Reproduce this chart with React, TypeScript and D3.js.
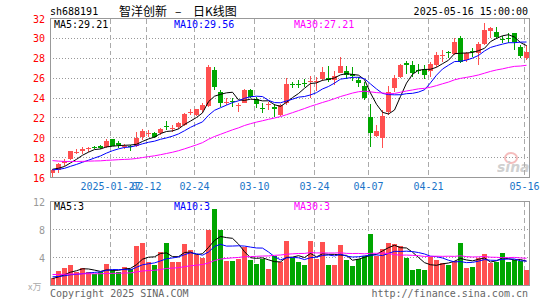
import React, { useEffect, useRef } from "react";
import * as d3 from "d3";

const dates = [
  "2025-01-13", "2025-01-14", "2025-01-15", "2025-01-16", "2025-01-17", "2025-01-20", "2025-01-21", "2025-01-22",
  "2025-01-23", "2025-01-24", "2025-01-27", "2025-02-05", "2025-02-06", "2025-02-07", "2025-02-10", "2025-02-11",
  "2025-02-12", "2025-02-13", "2025-02-14", "2025-02-17", "2025-02-18", "2025-02-19", "2025-02-20", "2025-02-21",
  "2025-02-24", "2025-02-25", "2025-02-26", "2025-02-27", "2025-02-28", "2025-03-03", "2025-03-04", "2025-03-05",
  "2025-03-06", "2025-03-07", "2025-03-10", "2025-03-11", "2025-03-12", "2025-03-13", "2025-03-14", "2025-03-17",
  "2025-03-18", "2025-03-19", "2025-03-20", "2025-03-21", "2025-03-24", "2025-03-25", "2025-03-26", "2025-03-27",
  "2025-03-28", "2025-03-31", "2025-04-01", "2025-04-02", "2025-04-03", "2025-04-07", "2025-04-08", "2025-04-09",
  "2025-04-10", "2025-04-11", "2025-04-14", "2025-04-15", "2025-04-16", "2025-04-17", "2025-04-18", "2025-04-21",
  "2025-04-22", "2025-04-23", "2025-04-24", "2025-04-25", "2025-04-28", "2025-04-29", "2025-04-30", "2025-05-06",
  "2025-05-07", "2025-05-08", "2025-05-09", "2025-05-12", "2025-05-13", "2025-05-14", "2025-05-15", "2025-05-16",
];

const opens = [
  16.45, 16.8, 17.45, 17.9, 18.5, 18.7, 18.9, 19.05, 19.15, 19.05, 19.85, 19.5, 19.1, 19.15, 19.15, 20.05,
  20.4, 20.5, 20.45, 21.15, 20.9, 21.05, 21.3, 22.45, 22.3, 22.8, 23.2, 26.85, 24.6, 23.55, 23.65, 23.2,
  23.5, 24.85, 23.85, 22.95, 23.3, 23.1, 22.3, 23.45, 25.4, 25.45, 25.55, 25.65, 25.65, 25.95, 26.05, 25.85,
  26.55, 26.7, 26.45, 25.85, 25.2, 22.1, 20.2, 19.95, 22.6, 25.05, 26.15, 27.55, 27.3, 26.85, 26.95, 26.7,
  27.3, 28.25, 28.6, 28.4, 30.05, 27.8, 28.7, 28.5, 29.4, 30.7, 30.65, 29.95, 30.0, 30.5, 29.15, 28.05,
];
const highs = [
  16.85, 17.5, 17.9, 18.7, 18.85, 19.1, 19.1, 19.2, 19.25, 19.9, 19.9, 19.7, 19.4, 19.25, 20.55, 20.9,
  20.75, 20.6, 21.0, 21.65, 21.25, 21.6, 22.45, 22.85, 22.9, 23.45, 27.3, 27.15, 24.8, 24.0, 24.0, 23.5,
  24.9, 24.9, 24.1, 23.45, 23.6, 23.4, 23.4, 26.0, 25.65, 25.85, 25.95, 26.25, 26.1, 27.1, 27.25, 26.7,
  28.1, 27.25, 27.15, 26.15, 25.6, 23.4, 21.3, 22.75, 25.25, 26.3, 27.45, 27.7, 27.7, 27.45, 27.3, 27.65,
  28.65, 28.8, 28.75, 30.0, 30.25, 28.65, 29.05, 29.65, 31.5, 31.15, 31.15, 30.25, 30.5, 30.55, 29.3, 29.3,
];
const lows = [
  16.05, 16.5, 17.2, 17.8, 18.35, 18.4, 18.55, 18.85, 18.85, 19.0, 19.15, 18.95, 18.85, 18.7, 19.05, 19.75,
  20.1, 20.0, 20.3, 20.75, 20.6, 20.9, 21.2, 22.25, 22.2, 22.45, 23.1, 24.85, 23.05, 23.25, 23.1, 22.6,
  23.45, 23.95, 22.95, 22.5, 22.77, 22.1, 22.2, 23.3, 25.0, 25.0, 25.1, 24.0, 24.75, 25.7, 25.6, 25.3,
  26.5, 25.95, 25.75, 25.1, 23.75, 19.05, 20.05, 18.95, 22.3, 24.6, 26.0, 26.45, 26.15, 26.45, 25.9, 26.1,
  27.15, 27.65, 28.05, 28.3, 27.5, 27.65, 28.15, 27.3, 29.3, 30.05, 29.9, 29.5, 29.5, 28.8, 28.05, 27.8,
];
const closes = [
  16.8, 17.4, 17.7, 18.65, 18.6, 18.85, 18.95, 19.0, 18.95, 19.65, 19.2, 19.25, 19.15, 19.1, 20.0, 20.65,
  20.5, 20.1, 20.85, 21.05, 20.95, 21.5, 22.35, 22.55, 22.85, 23.25, 27.15, 25.1, 23.5, 23.6, 23.55, 23.3,
  24.85, 24.1, 23.4, 22.9, 23.35, 22.85, 23.3, 25.4, 25.3, 25.4, 25.5, 25.7, 25.7, 26.6, 25.85, 26.25,
  27.25, 26.3, 26.2, 25.5, 24.0, 20.5, 20.65, 22.15, 24.65, 26.0, 27.35, 27.35, 26.55, 26.75, 26.35, 27.45,
  28.35, 28.35, 28.5, 29.65, 27.65, 28.5, 28.6, 29.4, 30.85, 31.0, 30.15, 29.9, 29.95, 29.65, 28.25, 28.6,
];
// volume in 万手
const volumes = [
  1.1, 2.1, 2.5, 2.9, 1.95, 2.5, 1.95, 1.7, 1.95, 3.05, 2.2, 1.95, 2.65, 2.4, 5.67, 6.1,
  3.4, 2.9, 4.8, 6.1, 3.4, 3.4, 5.9, 5.05, 4.33, 4.0, 7.9, 10.9, 7.9, 3.5, 3.5, 3.75,
  5.5, 3.6, 3.05, 3.85, 2.35, 4.2, 3.4, 6.3, 4.0, 3.4, 2.9, 6.3, 3.85, 6.2, 3.0, 2.9,
  5.8, 3.6, 2.75, 3.75, 4.2, 7.33, 4.2, 5.2, 6.1, 5.9, 5.6, 4.0, 2.2, 2.33, 2.2, 4.1,
  3.6, 3.25, 2.9, 3.5, 6.1, 2.5, 2.6, 4.0, 4.5, 3.15, 3.4, 4.65, 3.4, 3.6, 3.5, 2.2,
];

// sessions before the visible window, only used to start the moving averages
const preCloses = [
  18.9, 18.7, 18.8, 18.5, 18.6, 18.3, 18.4, 18.6, 18.2, 18.3, 18.1, 18.4, 18.2, 18.0,
  17.9, 17.7, 17.6, 17.5, 17.4, 17.2, 16.9, 16.7, 16.6, 16.7, 16.65, 16.9, 16.8, 16.85, 16.8,
];
const preVolumes = [
  1.9, 1.6, 2.1, 1.8, 1.5, 1.7, 2.0, 1.6, 1.9, 1.8, 1.5, 1.7, 1.8, 1.6, 1.9, 1.7, 1.6, 1.8, 1.5, 1.7,
  1.6, 1.5, 1.4, 1.5, 1.4, 1.0, 0.9, 1.1, 0.9,
];

const tickDates = ["2025-01-27", "2025-02-12", "2025-02-24", "2025-03-10", "2025-03-24", "2025-04-07", "2025-04-21", "2025-05-16"];
const tickLabels = ["2025-01-27", "02-12", "02-24", "03-10", "03-24", "04-07", "04-21", "05-16"];
const priceTicks = [16, 18, 20, 22, 24, 26, 28, 30, 32];
const volTicks = [4, 8, 12];

const maPeriods = [5, 10, 30];
const maColors = ["#000000", "#0000ff", "#ff00ff"];
const priceMaLabels = ["MA5:29.21", "MA10:29.56", "MA30:27.21"];
const volMaLabels = ["MA5:3", "MA10:3", "MA30:3"];

const movingAverage = (prev: number[], vals: number[], n: number) => {
  const all = prev.concat(vals);
  const off = prev.length;
  return vals.map((_, i) => d3.mean(all.slice(off + i - n + 1, off + i + 1)) as number);
};

const App = () => {
  const ref = useRef<SVGSVGElement | null>(null);

  useEffect(() => {
    const svg = d3.select(ref.current);
    svg.selectAll("*").remove();

    const mono = "'DejaVu Sans Mono', monospace";
    const cjk = "'Noto Sans CJK SC', sans-serif";
    const red = "#ff5050";
    const green = "#00a600";
    const left = 50;
    const right = 529;

    const x = d3.scaleBand<string>().domain(dates).range([left, right]).paddingInner(1 / 6).paddingOuter(0);
    const bw = x.bandwidth();
    const cx = (d: string) => (x(d) as number) + bw / 2;
    const yP = d3.scaleLinear().domain([16, 32]).range([177.5, 18.5]);
    const yV = d3.scaleLinear().domain([0, 12]).range([285.5, 201.5]);
    const crisp = (v: number) => Math.round(v - 0.5) + 0.5;

    const candles = dates.map((d, i) => ({
      date: d,
      o: opens[i],
      h: highs[i],
      l: lows[i],
      c: closes[i],
      v: volumes[i],
      up: closes[i] >= opens[i],
    }));

    svg.append("rect").attr("width", 545).attr("height", 300).attr("fill", "#fff");

    // header
    svg.append("text").attr("x", 50).attr("y", 15).attr("font-family", mono).attr("font-size", 10)
      .attr("fill", "#000").text("sh688191");
    svg.append("text").attr("x", 119).attr("y", 15.5).attr("font-family", cjk)
      .attr("font-size", 12).attr("fill", "#000").text("智洋创新");
    svg.append("text").attr("x", 175).attr("y", 15.5).attr("font-family", cjk)
      .attr("font-size", 12).attr("fill", "#000").text("–");
    svg.append("text").attr("x", 193).attr("y", 15.5).attr("font-family", cjk)
      .attr("font-size", 12).attr("fill", "#000").text("日K线图");
    svg.append("text").attr("x", 528).attr("y", 15).attr("text-anchor", "end").attr("font-family", mono)
      .attr("font-size", 10).attr("fill", "#000").text("2025-05-16 15:00:00");

    // grids
    const grid = svg.append("g").attr("shape-rendering", "crispEdges");
    grid.selectAll("line.hp").data(priceTicks.slice(1, -1)).join("line")
      .attr("x1", left).attr("x2", right)
      .attr("y1", (d) => crisp(yP(d))).attr("y2", (d) => crisp(yP(d)))
      .attr("stroke", "#999").attr("stroke-dasharray", "1,2");
    grid.selectAll("line.hv").data(volTicks.slice(0, -1)).join("line")
      .attr("x1", left).attr("x2", right)
      .attr("y1", (d) => crisp(yV(d))).attr("y2", (d) => crisp(yV(d)))
      .attr("stroke", "#999").attr("stroke-dasharray", "1,2");
    [[18.5, 177.5], [201.5, 285.5]].forEach(([t, b]) => {
      grid.append("g").selectAll("line").data(tickDates).join("line")
        .attr("x1", (d) => (x(d) as number) + 0.5).attr("x2", (d) => (x(d) as number) + 0.5)
        .attr("y1", t).attr("y2", b)
        .attr("stroke", "#aaa").attr("stroke-dasharray", "5,3");
    });

    // candles
    const cg = svg.append("g").attr("shape-rendering", "crispEdges");
    cg.selectAll("line.wick").data(candles).join("line")
      .attr("x1", (d) => cx(d.date)).attr("x2", (d) => cx(d.date))
      .attr("y1", (d) => yP(d.h)).attr("y2", (d) => yP(d.l))
      .attr("stroke", (d) => (d.up ? red : green));
    cg.selectAll("rect.body").data(candles).join("rect")
      .attr("x", (d) => x(d.date) as number)
      .attr("width", bw)
      .attr("y", (d) => yP(Math.max(d.o, d.c)))
      .attr("height", (d) => Math.max(1, Math.abs(yP(d.o) - yP(d.c))))
      .attr("fill", (d) => (d.up ? red : green));

    // volume bars
    svg.append("g").attr("shape-rendering", "crispEdges")
      .selectAll("rect").data(candles).join("rect")
      .attr("x", (d) => x(d.date) as number)
      .attr("width", bw)
      .attr("y", (d) => yV(d.v))
      .attr("height", (d) => yV(0) - yV(d.v))
      .attr("fill", (d) => (d.up ? red : green));

    // moving averages
    maPeriods.forEach((n, k) => {
      const pm = movingAverage(preCloses, closes, n);
      const vm = movingAverage(preVolumes, volumes, n);
      const lp = d3.line<number>().x((_, i) => cx(dates[i])).y((v) => yP(v));
      const lv = d3.line<number>().x((_, i) => cx(dates[i])).y((v) => yV(v));
      svg.append("path").attr("d", lp(pm)).attr("fill", "none").attr("stroke", maColors[k]).attr("stroke-width", 1);
      svg.append("path").attr("d", lv(vm)).attr("fill", "none").attr("stroke", maColors[k]).attr("stroke-width", 1);
    });

    // borders
    const border = svg.append("g").attr("shape-rendering", "crispEdges").attr("fill", "none").attr("stroke", "#999");
    border.append("rect").attr("x", left + 0.5).attr("y", 18.5).attr("width", right - left).attr("height", 159);
    border.append("rect").attr("x", left + 0.5).attr("y", 201.5).attr("width", right - left).attr("height", 84);

    // axis labels
    svg.append("g").selectAll("text").data(priceTicks).join("text")
      .attr("x", 45).attr("y", (d) => yP(d) + 4).attr("text-anchor", "end")
      .attr("font-family", mono).attr("font-size", 10).attr("fill", "#f00")
      .text((d) => d);
    svg.append("g").selectAll("text").data(volTicks).join("text")
      .attr("x", 45).attr("y", (d) => yV(d) + 4).attr("text-anchor", "end")
      .attr("font-family", mono).attr("font-size", 10).attr("fill", "#999")
      .text((d) => d);
    svg.append("g").selectAll("text").data(tickDates).join("text")
      .attr("x", (d) => (x(d) as number) + 0.5).attr("y", 190).attr("text-anchor", "middle")
      .attr("font-family", mono).attr("font-size", 10).attr("fill", "#1a74c8")
      .text((_, i) => tickLabels[i]);

    // legends
    const legX = [54, 174, 294];
    priceMaLabels.forEach((t, k) => {
      svg.append("text").attr("x", legX[k]).attr("y", 28).attr("font-family", mono).attr("font-size", 10)
        .attr("fill", maColors[k]).text(t);
    });
    volMaLabels.forEach((t, k) => {
      svg.append("text").attr("x", legX[k]).attr("y", 210).attr("font-family", mono).attr("font-size", 10)
        .attr("fill", maColors[k]).text(t);
    });

    // footer
    svg.append("text").attr("x", 28).attr("y", 290).attr("font-family", cjk)
      .attr("font-size", 9).attr("fill", "#aaa").text("x万");
    svg.append("text").attr("x", 50).attr("y", 297).attr("font-family", mono).attr("font-size", 10)
      .attr("fill", "#666").text("Copyright 2025 SINA.COM");
    svg.append("text").attr("x", 528).attr("y", 297).attr("text-anchor", "end").attr("font-family", mono)
      .attr("font-size", 10).attr("fill", "#666").text("http://finance.sina.com.cn");

    // sina watermark
    const wm = svg.append("g").attr("opacity", 0.55);
    wm.append("ellipse").attr("cx", 511).attr("cy", 158).attr("rx", 6).attr("ry", 5)
      .attr("fill", "none").attr("stroke", "#e88").attr("stroke-width", 2);
    wm.append("text").attr("x", 497).attr("y", 172).attr("font-family", "'DejaVu Sans', sans-serif")
      .attr("font-size", 14).attr("font-weight", "bold").attr("font-style", "italic")
      .attr("fill", "#aaa").text("sina");
  }, []);

  return (
    <div style={{ position: "absolute", left: 0, top: 0 }}>
      <svg ref={ref} width={545} height={300} style={{ display: "block" }} />
    </div>
  );
};

export default App;
